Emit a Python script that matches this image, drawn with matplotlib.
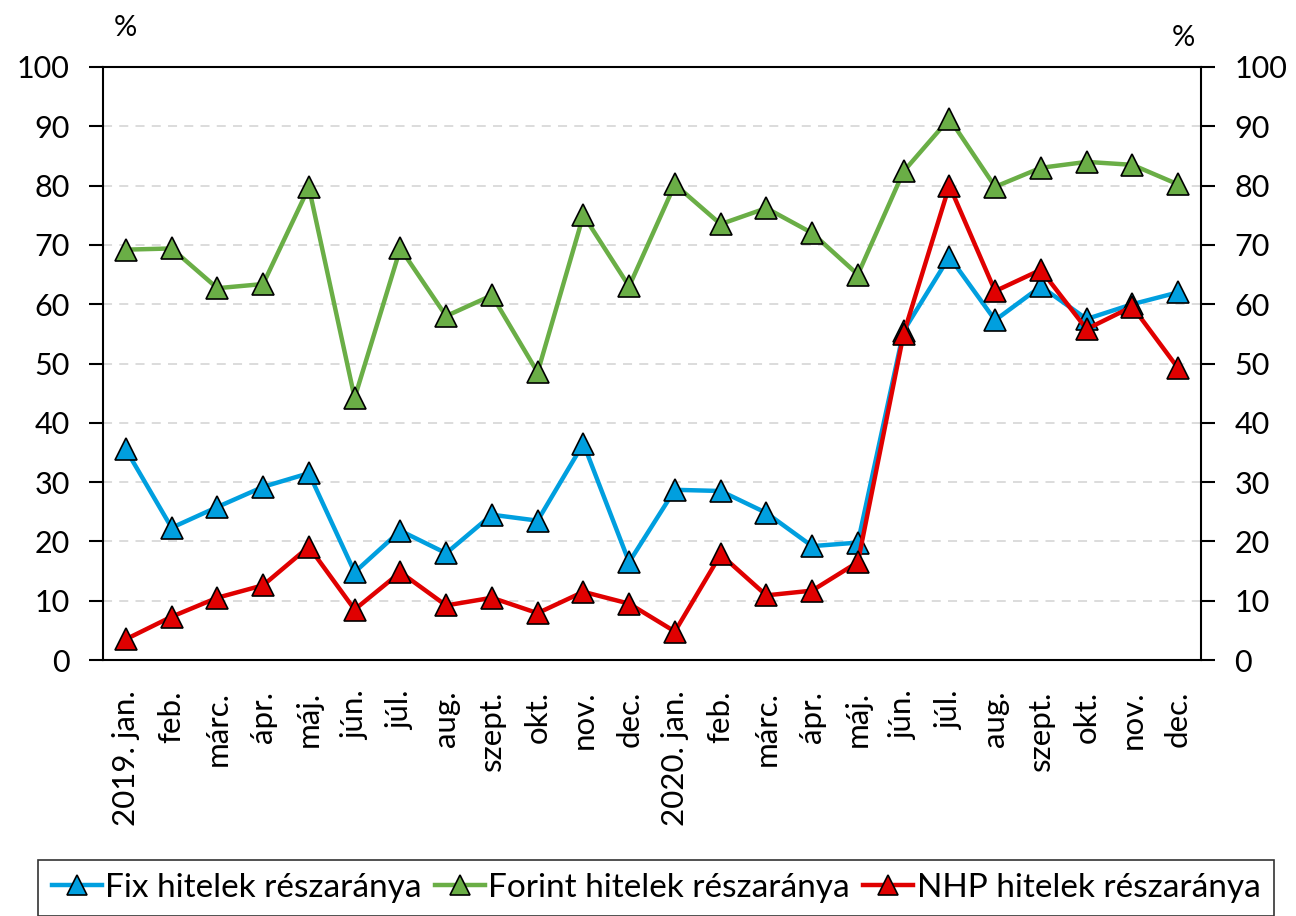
import matplotlib
matplotlib.use("Agg")
import matplotlib.pyplot as plt

months = ["2019. jan.", "feb.", "márc.", "ápr.", "máj.", "jún.", "júl.", "aug.",
          "szept.", "okt.", "nov.", "dec.",
          "2020. jan.", "feb.", "márc.", "ápr.", "máj.", "jún.", "júl.", "aug.",
          "szept.", "okt.", "nov.", "dec."]

fix_share = [35.5, 22.3, 25.8, 29.2, 31.5, 14.8, 21.8, 18.0, 24.5, 23.5, 36.5, 16.5,
             28.7, 28.5, 24.8, 19.2, 19.8, 55.5, 68.0, 57.3, 63.0, 57.5, 60.0, 62.0]
forint_share = [69.2, 69.4, 62.7, 63.4, 79.7, 44.2, 69.4, 58.0, 61.5, 48.5, 75.0, 63.0,
                80.2, 73.5, 76.2, 72.0, 65.0, 82.4, 91.3, 79.8, 83.0, 84.0, 83.5, 80.2]
nhp_share = [3.5, 7.3, 10.5, 12.6, 19.1, 8.5, 14.8, 9.2, 10.5, 7.9, 11.5, 9.5,
             4.8, 17.8, 10.9, 11.7, 16.5, 55.0, 80.0, 62.2, 65.8, 55.8, 59.6, 49.2]

series = [
    ("Fix hitelek részaránya", fix_share, "#009FDF"),
    ("Forint hitelek részaránya", forint_share, "#6AAE46"),
    ("NHP hitelek részaránya", nhp_share, "#E00000"),
]

plt.rcParams["font.family"] = ["Lato", "DejaVu Sans"]

fig = plt.figure(figsize=(12.96, 9.16), dpi=100)
ax = fig.add_axes([103 / 1296, 1 - 660 / 916, 1098 / 1296, 593 / 916])

x = list(range(len(months)))
for label, values, color in series:
    ax.plot(x, values, color=color, lw=3.2, marker="^", markersize=16,
            markerfacecolor=color, markeredgecolor="black", markeredgewidth=1.2,
            label=label, zorder=3)

ax.set_xlim(-0.5, len(months) - 0.5)
ax.set_ylim(0, 100)
ax.set_yticks(range(0, 101, 10))
ax.set_xticks(x)
ax.set_xticklabels(months, rotation=90, fontsize=22.5)
ax.tick_params(axis="x", length=0, pad=22)
ax.tick_params(axis="y", direction="out", length=10, width=1.5, labelsize=22,
               right=True, labelright=True, pad=14)
for lbl in ax.get_xticklabels():
    lbl.set_verticalalignment("top")

ax.grid(axis="y", color="#D9D9D9", linestyle=(0, (5, 4)), lw=1.3, zorder=0)
for s in ax.spines.values():
    s.set_color("black")
    s.set_linewidth(1.5)

fig.text(125 / 1296, 1 - 28 / 916, "%", fontsize=21, ha="center", va="center")
fig.text(1183 / 1296, 1 - 38 / 916, "%", fontsize=21, ha="center", va="center")

leg = fig.legend(loc="center", bbox_to_anchor=(656 / 1296, 1 - 888 / 916), ncol=3,
                 fontsize=24, frameon=True, fancybox=False, edgecolor="black",
                 handlelength=1.5, handletextpad=0.1, columnspacing=0.4,
                 borderpad=0.4, markerscale=0.9)
leg.get_frame().set_linewidth(1.2)

fig.savefig("out.png", dpi=100)
